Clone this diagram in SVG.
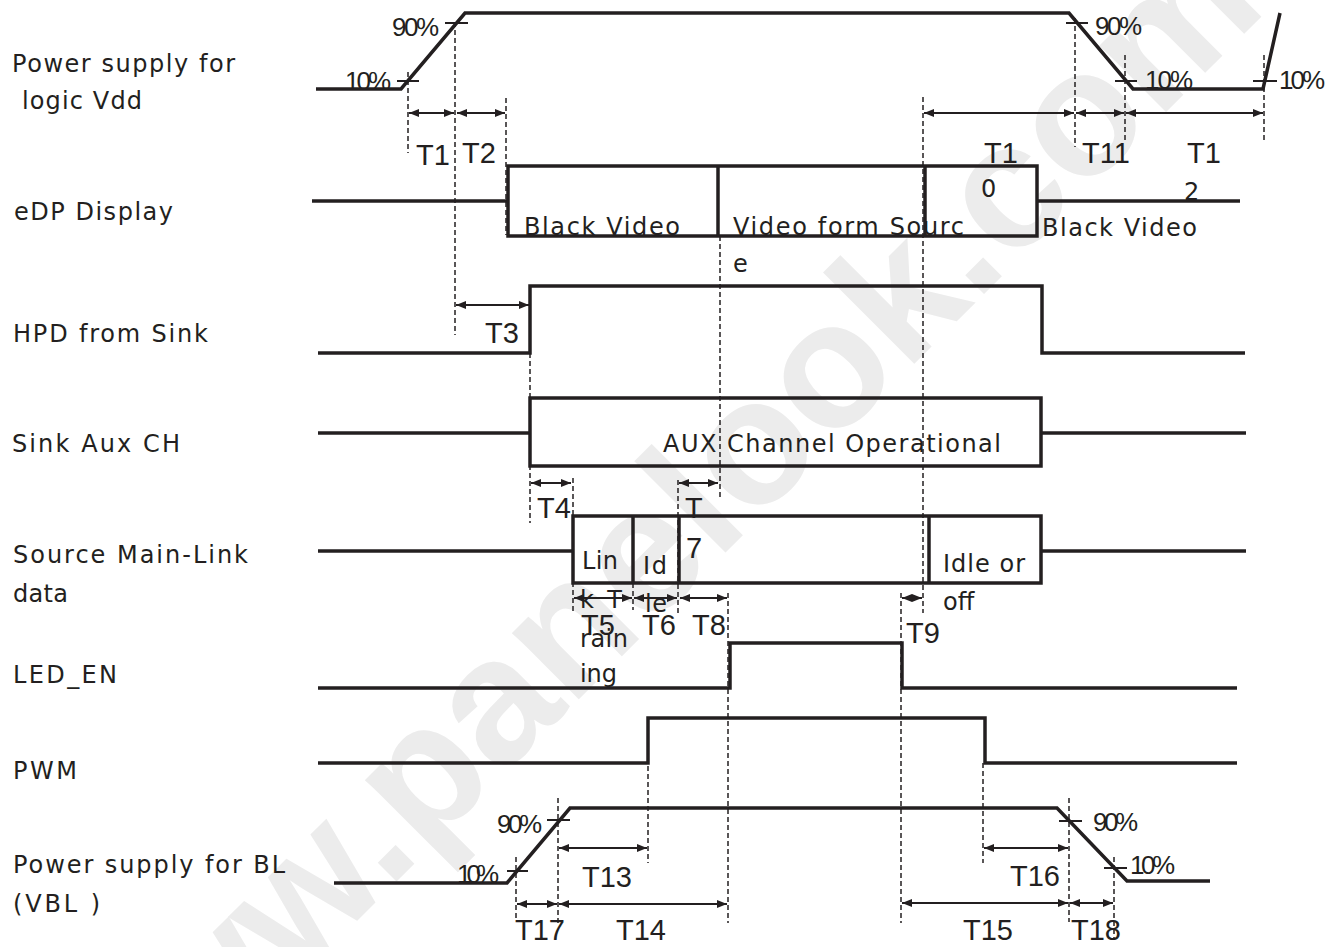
<svg xmlns="http://www.w3.org/2000/svg" width="1329" height="947" viewBox="0 0 1329 947">
<defs>
<marker id="ah" markerUnits="userSpaceOnUse" markerWidth="10" markerHeight="8" refX="10" refY="4" orient="auto-start-reverse"><path d="M0,0 L10,4 L0,8 z" fill="#231f20"/></marker>
<style>
.sig{fill:none;stroke:#231f20;stroke-width:3.5;stroke-linejoin:miter}
.box{fill:none;stroke:#231f20;stroke-width:3.5}
.tick{stroke:#231f20;stroke-width:2}
.dash{stroke:#231f20;stroke-width:1.5;stroke-dasharray:5 3;fill:none}
.arr{stroke:#231f20;stroke-width:2;fill:none;marker-start:url(#ah);marker-end:url(#ah)}
text{font-family:"Liberation Sans",Arial,sans-serif;fill:#231f20}
.lbl{font-family:"DejaVu Sans","Liberation Sans",sans-serif;font-size:24px}
.bx{font-family:"DejaVu Sans","Liberation Sans",sans-serif;font-size:24px}
.pc{font-size:26px}
.tl{font-size:29px}
.wm{font-size:178px;font-weight:bold;fill:#ececec}
</style>
</defs>
<rect width="1329" height="947" fill="#ffffff"/>
<text class="wm" x="99" y="1179" transform="rotate(-45 99 1179)">www.panelook.com</text>

<g id="labels">
<text class="lbl" x="12" y="72" textLength="223">Power supply for</text>
<text class="lbl" x="22" y="109" textLength="120">logic Vdd</text>
<text class="lbl" x="14" y="220" textLength="159">eDP Display</text>
<text class="lbl" x="13" y="342" textLength="195">HPD from Sink</text>
<text class="lbl" x="12" y="452" textLength="168">Sink Aux CH</text>
<text class="lbl" x="13" y="563" textLength="235">Source Main-Link</text>
<text class="lbl" x="13" y="602" textLength="55">data</text>
<text class="lbl" x="13" y="683" textLength="104">LED_EN</text>
<text class="lbl" x="13" y="779" textLength="64">PWM</text>
<text class="lbl" x="13" y="873" textLength="272">Power supply for BL</text>
<text class="lbl" x="13" y="912" textLength="87">(VBL )</text>
</g>

<g id="vdd">
<polyline class="sig" points="316,89 401,89 465,13 1069,13 1133,89 1263,89 1280,13"/>
<line class="tick" x1="397" y1="81" x2="419" y2="81"/>
<line class="tick" x1="445" y1="23" x2="468" y2="23"/>
<line class="tick" x1="1066" y1="23" x2="1088" y2="23"/>
<line class="tick" x1="1115" y1="81" x2="1137" y2="81"/>
<line class="tick" x1="1253" y1="81" x2="1277" y2="81"/>
<text class="pc" x="345" y="90" textLength="46">10%</text>
<text class="pc" x="392" y="36" textLength="47">90%</text>
<text class="pc" x="1095" y="35" textLength="47">90%</text>
<text class="pc" x="1145" y="89" textLength="48">10%</text>
<text class="pc" x="1279" y="89" textLength="46">10%</text>
</g>

<g id="edp">
<line class="sig" x1="312" y1="201" x2="508" y2="201"/>
<rect class="box" x="508" y="166" width="529" height="70"/>
<line class="sig" x1="718" y1="166" x2="718" y2="236"/>
<line class="sig" x1="925" y1="166" x2="925" y2="236"/>
<line class="sig" x1="1037" y1="201" x2="1240" y2="201"/>
<text class="bx" x="524" y="235" textLength="156">Black Video</text>
<text class="bx" x="733" y="235" textLength="231">Video form Sourc</text>
<text class="bx" x="733" y="272">e</text>
<text class="bx" x="981" y="197">0</text>
<text class="bx" x="1042" y="236" textLength="155">Black Video</text>
<text class="bx" x="1184" y="200">2</text>
</g>

<g id="hpd">
<polyline class="sig" points="318,353 530,353 530,286 1042,286 1042,353 1245,353"/>
</g>

<g id="aux">
<line class="sig" x1="318" y1="433" x2="530" y2="433"/>
<rect class="box" x="530" y="398" width="511" height="68"/>
<line class="sig" x1="1041" y1="433" x2="1246" y2="433"/>
<text class="bx" x="663" y="452" textLength="338">AUX Channel Operational</text>
</g>

<g id="mainlink">
<line class="sig" x1="318" y1="551" x2="573" y2="551"/>
<rect class="box" x="573" y="516" width="468" height="67"/>
<line class="sig" x1="633" y1="516" x2="633" y2="583"/>
<line class="sig" x1="679" y1="516" x2="679" y2="583"/>
<line class="sig" x1="929" y1="516" x2="929" y2="583"/>
<line class="sig" x1="1041" y1="551" x2="1246" y2="551"/>
<text class="bx" x="582" y="569" textLength="36">Lin</text>
<text class="bx" x="580" y="608" textLength="42">k T</text>
<text class="bx" x="580" y="647" textLength="48">rain</text>
<text class="bx" x="580" y="682" textLength="37">ing</text>
<text class="bx" x="643" y="574" textLength="24">Id</text>
<text class="bx" x="645" y="612" textLength="22">le</text>
<text class="bx" x="943" y="572" textLength="82">Idle or</text>
<text class="bx" x="943" y="610">off</text>
</g>

<g id="led_en">
<polyline class="sig" points="318,688 730,688 730,643 902,643 902,688 1237,688"/>
</g>

<g id="pwm">
<polyline class="sig" points="318,763 648,763 648,718 985,718 985,763 1237,763"/>
</g>

<g id="vbl">
<polyline class="sig" points="334,883 507,883 570,808 1057,808 1127,881 1210,881"/>
<line class="tick" x1="507" y1="871" x2="528" y2="871"/>
<line class="tick" x1="547" y1="820" x2="570" y2="820"/>
<line class="tick" x1="1059" y1="821" x2="1082" y2="821"/>
<line class="tick" x1="1104" y1="868" x2="1127" y2="868"/>
<text class="pc" x="457" y="883" textLength="42">10%</text>
<text class="pc" x="497" y="833" textLength="45">90%</text>
<text class="pc" x="1093" y="831" textLength="45">90%</text>
<text class="pc" x="1130" y="874" textLength="45">10%</text>
</g>

<g id="connectors">
<line class="dash" x1="408" y1="72" x2="408" y2="153"/>
<line class="dash" x1="455" y1="22" x2="455" y2="335"/>
<line class="dash" x1="506" y1="98" x2="506" y2="235"/>
<line class="dash" x1="923" y1="97" x2="923" y2="613"/>
<line class="dash" x1="1075" y1="18" x2="1075" y2="147"/>
<line class="dash" x1="1125" y1="55" x2="1125" y2="140"/>
<line class="dash" x1="1264" y1="55" x2="1264" y2="143"/>
<line class="dash" x1="720" y1="236" x2="720" y2="498"/>
<line class="dash" x1="530" y1="353" x2="530" y2="523"/>
<line class="dash" x1="573" y1="478" x2="573" y2="613"/>
<line class="dash" x1="678" y1="480" x2="678" y2="613"/>
<line class="dash" x1="633" y1="583" x2="633" y2="610"/>
<line class="dash" x1="728" y1="593" x2="728" y2="923"/>
<line class="dash" x1="901" y1="593" x2="901" y2="923"/>
<line class="dash" x1="648" y1="718" x2="648" y2="863"/>
<line class="dash" x1="983" y1="763" x2="983" y2="863"/>
<line class="dash" x1="516" y1="857" x2="516" y2="920"/>
<line class="dash" x1="558" y1="798" x2="558" y2="923"/>
<line class="dash" x1="1069" y1="798" x2="1069" y2="922"/>
<line class="dash" x1="1114" y1="857" x2="1114" y2="938"/>

<line class="arr" x1="409" y1="113" x2="454" y2="113"/>
<line class="arr" x1="457" y1="113" x2="505" y2="113"/>
<line class="arr" x1="924" y1="113" x2="1074" y2="113"/>
<line class="arr" x1="1076" y1="113" x2="1124" y2="113"/>
<line class="arr" x1="1126" y1="113" x2="1263" y2="113"/>
<line class="arr" x1="456" y1="305" x2="529" y2="305"/>
<line class="arr" x1="531" y1="483" x2="571" y2="483"/>
<line class="arr" x1="679" y1="483" x2="718" y2="483"/>
<line class="arr" x1="574" y1="598" x2="632" y2="598"/>
<line class="arr" x1="634" y1="598" x2="677" y2="598"/>
<line class="arr" x1="680" y1="598" x2="727" y2="598"/>
<line class="arr" x1="902" y1="598" x2="922" y2="598"/>
<line class="arr" x1="559" y1="848" x2="647" y2="848"/>
<line class="arr" x1="984" y1="848" x2="1068" y2="848"/>
<line class="arr" x1="517" y1="904" x2="557" y2="904"/>
<line class="arr" x1="559" y1="904" x2="727" y2="904"/>
<line class="arr" x1="902" y1="903" x2="1068" y2="903"/>
<line class="arr" x1="1070" y1="903" x2="1113" y2="903"/>
</g>

<g id="timing-labels">
<text class="tl" x="416" y="165">T1</text>
<text class="tl" x="462" y="163">T2</text>
<text class="tl" x="984" y="163">T1</text>
<text class="tl" x="1082" y="163">T11</text>
<text class="tl" x="1187" y="163">T1</text>
<text class="tl" x="485" y="343">T3</text>
<text class="tl" x="537" y="518">T4</text>
<text class="tl" x="685" y="518">T</text>
<text class="tl" x="686" y="558">7</text>
<text class="tl" x="581" y="635">T5</text>
<text class="tl" x="642" y="635">T6</text>
<text class="tl" x="692" y="635">T8</text>
<text class="tl" x="906" y="643">T9</text>
<text class="tl" x="582" y="887">T13</text>
<text class="tl" x="1010" y="886">T16</text>
<text class="tl" x="515" y="940">T17</text>
<text class="tl" x="616" y="940">T14</text>
<text class="tl" x="963" y="940">T15</text>
<text class="tl" x="1071" y="940">T18</text>
</g>
</svg>
